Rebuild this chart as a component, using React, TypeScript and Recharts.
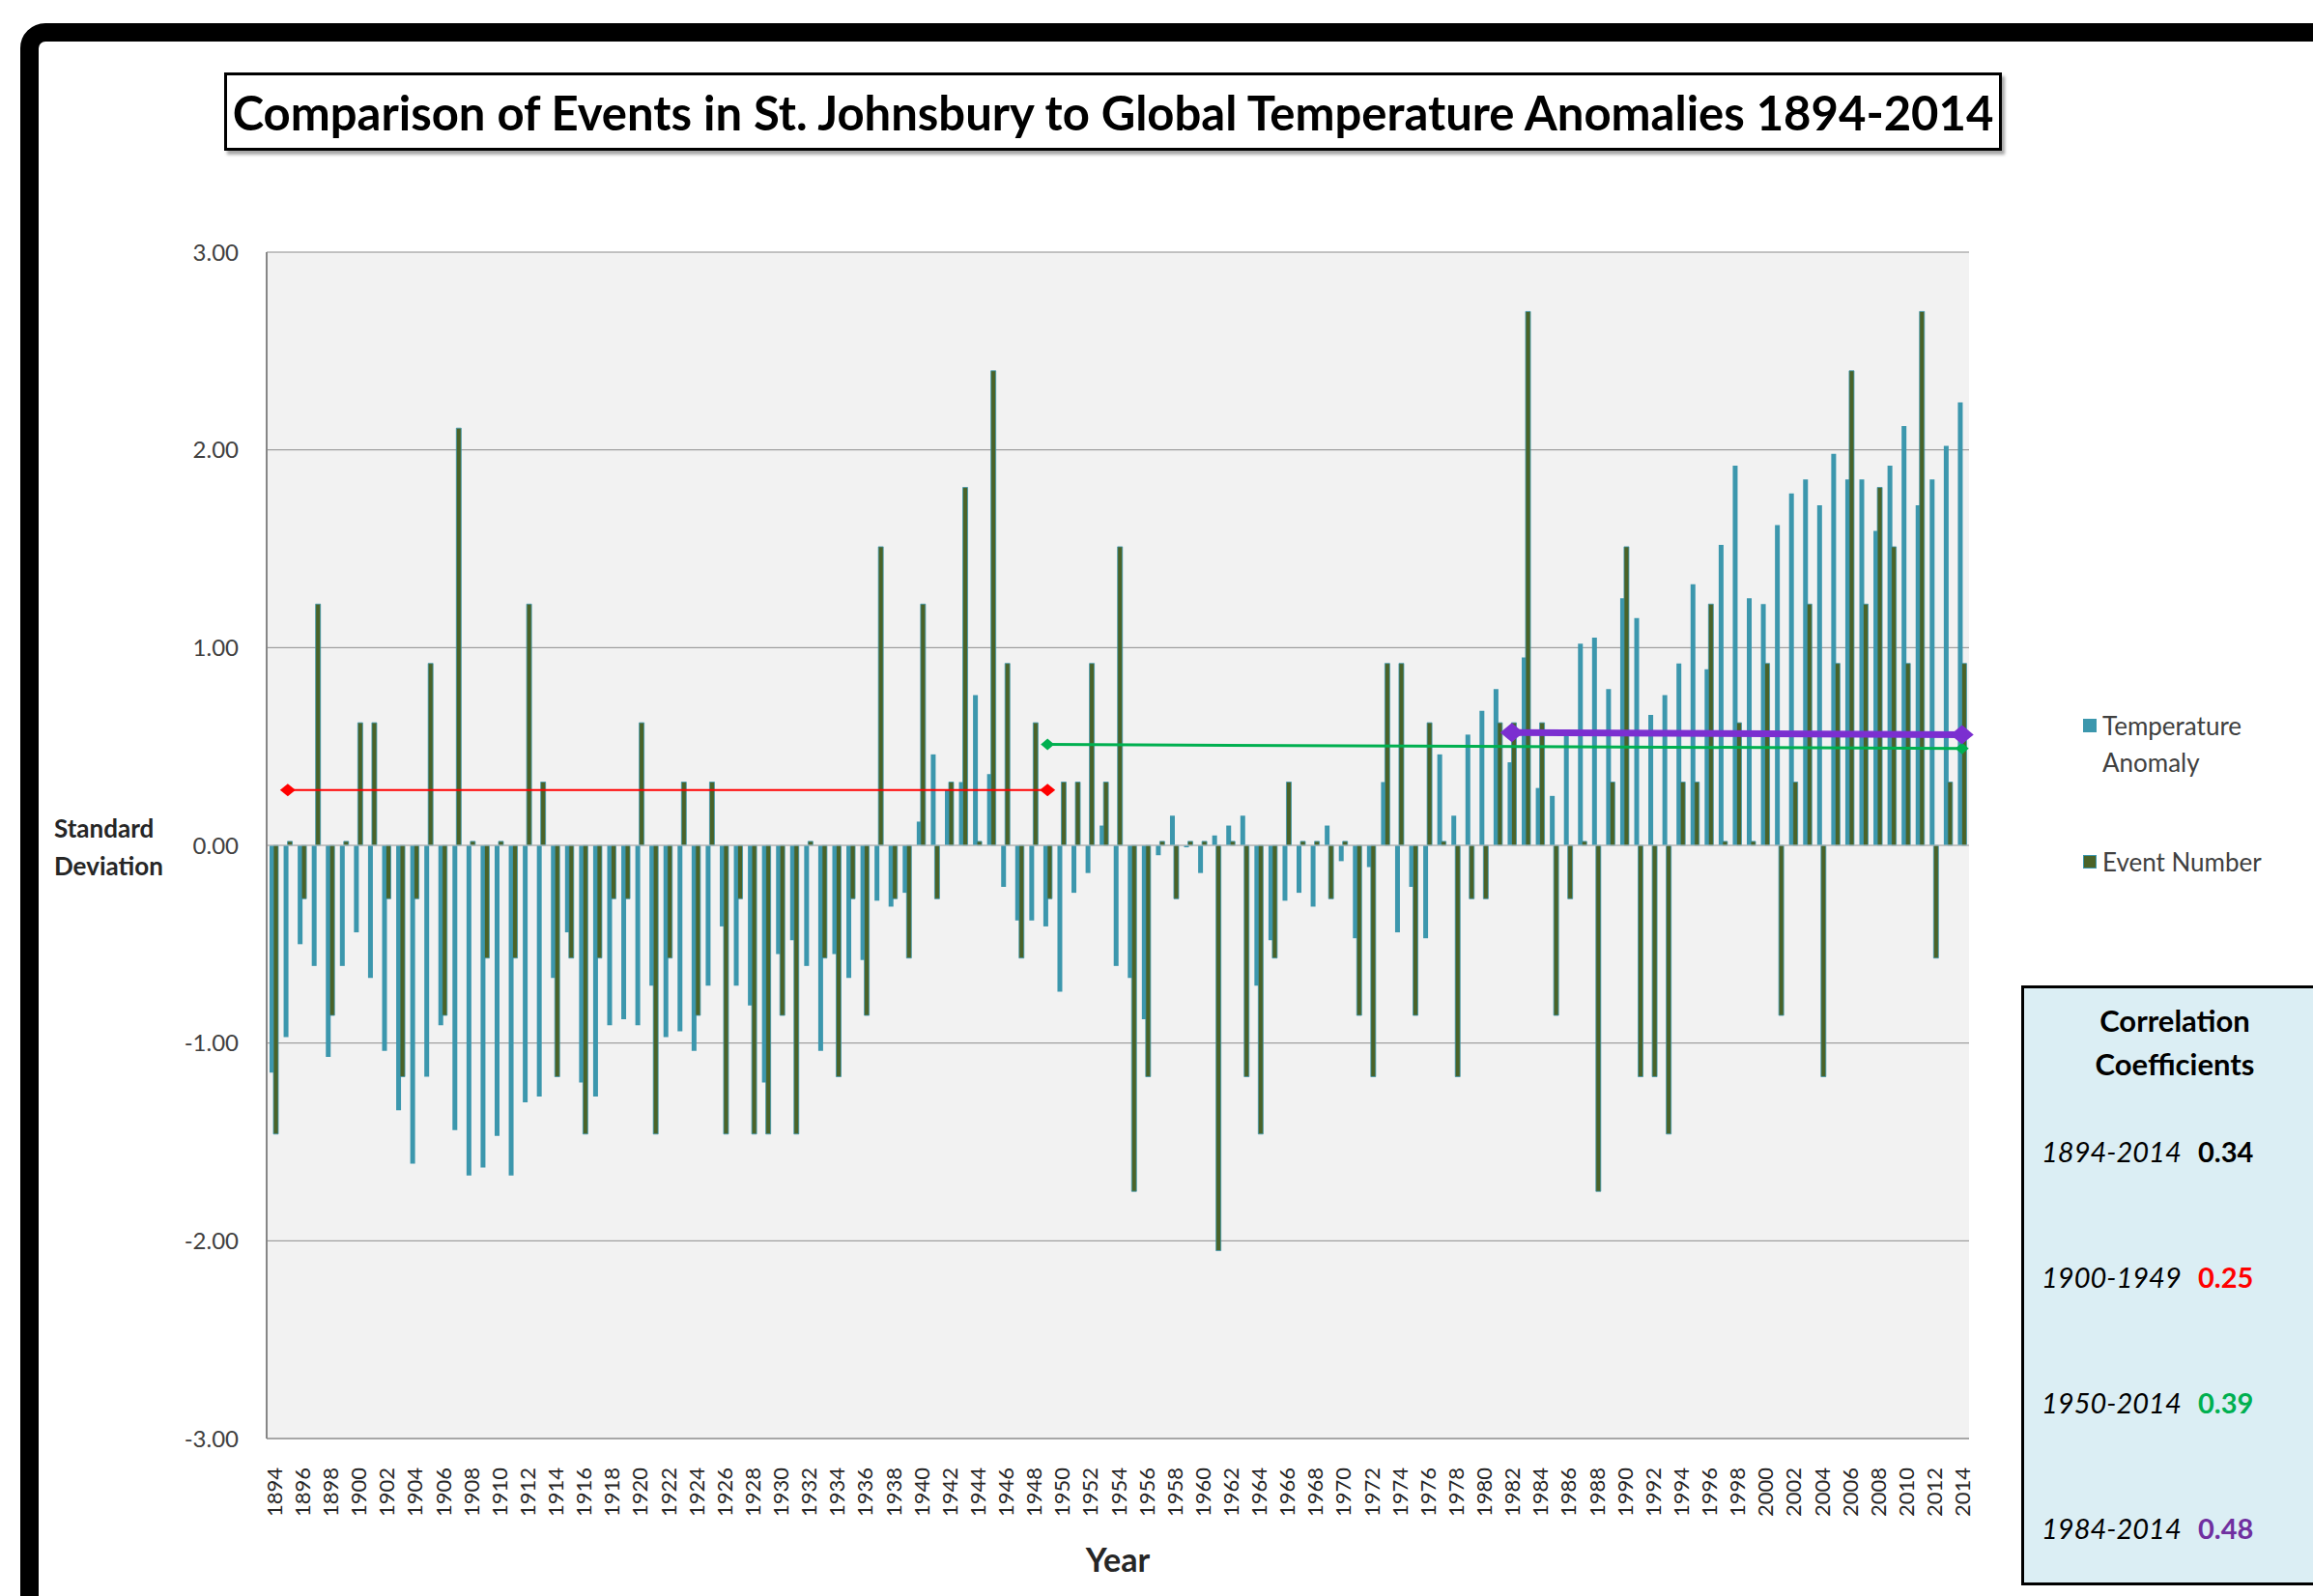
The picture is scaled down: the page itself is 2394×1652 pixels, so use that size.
import React from 'react';
import { ComposedChart, Bar, Line, XAxis, YAxis, CartesianGrid, ReferenceLine, Legend } from 'recharts';

const years = Array.from({ length: 121 }, (_, i) => String(1894 + i));

const tempAnomaly = [
  -1.15, -0.97, -0.5, -0.61, -1.07, -0.61, -0.44, -0.67, -1.04, -1.34,
  -1.61, -1.17, -0.91, -1.44, -1.67, -1.63, -1.47, -1.67, -1.3, -1.27,
  -0.67, -0.44, -1.2, -1.27, -0.91, -0.88, -0.91, -0.71, -0.97, -0.94,
  -1.04, -0.71, -0.41, -0.71, -0.81, -1.2, -0.55, -0.48, -0.61, -1.04,
  -0.55, -0.67, -0.58, -0.28, -0.31, -0.24, 0.12, 0.46, 0.28, 0.32,
  0.76, 0.36, -0.21, -0.38, -0.38, -0.41, -0.74, -0.24, -0.14, 0.1,
  -0.61, -0.67, -0.88, -0.05, 0.15, -0.01, -0.14, 0.05, 0.1, 0.15,
  -0.71, -0.48, -0.28, -0.24, -0.31, 0.1, -0.08, -0.47, -0.11, 0.32,
  -0.44, -0.21, -0.47, 0.46, 0.15, 0.56, 0.68, 0.79, 0.42, 0.95,
  0.29, 0.25, 0.56, 1.02, 1.05, 0.79, 1.25, 1.15, 0.66, 0.76,
  0.92, 1.32, 0.89, 1.52, 1.92, 1.25, 1.22, 1.62, 1.78, 1.85,
  1.72, 1.98, 1.85, 1.85, 1.59, 1.92, 2.12, 1.72, 1.85, 2.02,
  2.24,
];

const eventNumber = [
  -1.46, 0.02, -0.27, 1.22, -0.86, 0.02, 0.62, 0.62, -0.27, -1.17,
  -0.27, 0.92, -0.86, 2.11, 0.02, -0.57, 0.02, -0.57, 1.22, 0.32,
  -1.17, -0.57, -1.46, -0.57, -0.27, -0.27, 0.62, -1.46, -0.57, 0.32,
  -0.86, 0.32, -1.46, -0.27, -1.46, -1.46, -0.86, -1.46, 0.02, -0.57,
  -1.17, -0.27, -0.86, 1.51, -0.27, -0.57, 1.22, -0.27, 0.32, 1.81,
  0.02, 2.4, 0.92, -0.57, 0.62, -0.27, 0.32, 0.32, 0.92, 0.32,
  1.51, -1.75, -1.17, 0.02, -0.27, 0.02, 0.02, -2.05, 0.02, -1.17,
  -1.46, -0.57, 0.32, 0.02, 0.02, -0.27, 0.02, -0.86, -1.17, 0.92,
  0.92, -0.86, 0.62, 0.02, -1.17, -0.27, -0.27, 0.62, 0.62, 2.7,
  0.62, -0.86, -0.27, 0.02, -1.75, 0.32, 1.51, -1.17, -1.17, -1.46,
  0.32, 0.32, 1.22, 0.02, 0.62, 0.02, 0.92, -0.86, 0.32, 1.22,
  -1.17, 0.92, 2.4, 1.22, 1.81, 1.51, 0.92, 2.7, -0.57, 0.32,
  0.92,
];

// trend lines drawn over the bars (end points only)
const trendRed = [{ year: '1895', value: 0.28 }, { year: '1949', value: 0.28 }];
const trendGreen = [{ year: '1949', value: 0.51 }, { year: '2014', value: 0.49 }];
const trendPurple = [{ year: '1982', value: 0.57 }, { year: '2014', value: 0.56 }];

const yTicks = [-3, -2, -1, 0, 1, 2, 3];
const minorTicks = Array.from({ length: 61 }, (_, i) => (i - 30) / 10);

const correlations = [
  { period: '1894-2014', value: '0.34', color: '#000000' },
  { period: '1900-1949', value: '0.25', color: '#ff0000' },
  { period: '1950-2014', value: '0.39', color: '#00b050' },
  { period: '1984-2014', value: '0.48', color: '#7030a0' },
];

const BLUE = '#3c97ad';
const GREEN = '#4a6328';
const legendOrder = ['temp', 'events'];
const seriesColors: Record<string, string> = { temp: BLUE, events: GREEN };

const pick = (list: { year: string; value: number }[], year: string) => {
  const hit = list.find((p) => p.year === year);
  return hit ? hit.value : null;
};

const data = years.map((year, i) => ({
  year,
  temp: tempAnomaly[i],
  events: eventNumber[i],
  red: pick(trendRed, year),
  green: pick(trendGreen, year),
  purple: pick(trendPurple, year),
}));

const diamond = (w: number, h: number, color: string) => (props: any) => {
  const { cx, cy, index } = props;
  if (cx == null || cy == null || Number.isNaN(cy)) return <g key={`d-${index}`} />;
  return (
    <polygon
      key={`d-${index}`}
      points={`${cx - w / 2},${cy} ${cx},${cy - h / 2} ${cx + w / 2},${cy} ${cx},${cy + h / 2}`}
      fill={color}
    />
  );
};

const YearTick = ({ x, y, payload }: any) => (
  <text
    x={x}
    y={y}
    transform={`rotate(-90, ${x}, ${y})`}
    textAnchor="end"
    dominantBaseline="central"
    fontFamily="Lato"
    fontSize={22}
    fill="#262626"
  >
    {payload.value}
  </text>
);

const renderLegend = ({ payload }: any) => {
  const items = (payload || [])
    .filter((e: any) => legendOrder.includes(e.dataKey))
    .sort((a: any, b: any) => legendOrder.indexOf(a.dataKey) - legendOrder.indexOf(b.dataKey));
  return (
    <div style={{ fontFamily: 'Lato', fontSize: 26, color: '#404040' }}>
      {items.map((entry: any) => (
        <div key={entry.dataKey} style={{ display: 'flex', alignItems: 'flex-start', marginBottom: 65 }}>
          <span
            style={{
              width: 14,
              height: 14,
              background: seriesColors[entry.dataKey],
              border: `1px solid ${BLUE}`,
              boxSizing: 'border-box',
              marginTop: 12,
              marginRight: 6,
              flexShrink: 0,
            }}
          />
          <span style={{ lineHeight: '38px', maxWidth: 185 }}>{entry.value}</span>
        </div>
      ))}
    </div>
  );
};

export default function App() {
  return (
    <div
      style={{
        position: 'absolute',
        left: 0,
        top: 0,
        width: 2394,
        height: 1652,
        overflow: 'hidden',
        background: '#ffffff',
      }}
    >
      <div
        style={{
          position: 'absolute',
          left: 21,
          top: 24,
          width: 2500,
          height: 1800,
          border: '19px solid #000',
          borderRadius: 26,
          background: '#fff',
        }}
      />

      <div style={{ position: 'absolute', left: 0, top: 0 }}>
        <ComposedChart
          width={2394}
          height={1652}
          data={data}
          margin={{ top: 261, right: 356, bottom: 13, left: 216 }}
          barGap={-1}
        >
          <CartesianGrid vertical={false} stroke="#8c8c8c" fill="#f2f2f2" />
          <XAxis
            dataKey="year"
            interval={1}
            height={150}
            tick={<YearTick />}
            tickLine={false}
            tickSize={0}
            tickMargin={30}
            axisLine={{ stroke: '#8c8c8c' }}
            label={{
              value: 'Year',
              position: 'insideBottom',
              offset: 12,
              style: { fontFamily: 'Lato', fontWeight: 700, fontSize: 34, fill: '#262626' },
            }}
          />
          <YAxis
            domain={[-3, 3]}
            ticks={yTicks}
            allowDataOverflow
            width={60}
            tickFormatter={(v: number) => v.toFixed(2)}
            tick={{ fontFamily: 'Lato', fontSize: 24, fill: '#404040' }}
            tickLine={false}
            tickSize={0}
            tickMargin={29}
            axisLine={{ stroke: '#868686', strokeWidth: 2 }}
          />
          <YAxis
            yAxisId="minor"
            mirror
            domain={[-3, 3]}
            ticks={minorTicks}
            allowDataOverflow
            tick={false}
            tickSize={7}
            tickLine={{ stroke: '#8c8c8c' }}
            axisLine={false}
          />
          <YAxis
            yAxisId="frame"
            orientation="right"
            width={0}
            domain={[-3, 3]}
            tick={false}
            tickLine={false}
            axisLine={{ stroke: '#6e6e6e', strokeWidth: 2 }}
          />
          <ReferenceLine y={0} stroke="#c8c8c8" />
          <Bar dataKey="temp" name="Temperature Anomaly" fill={BLUE} barSize={5} isAnimationActive={false} />
          <Bar
            dataKey="events"
            name="Event Number"
            fill={GREEN}
            stroke={BLUE}
            strokeWidth={0.8}
            barSize={5}
            isAnimationActive={false}
          />
          <Line
            dataKey="red"
            stroke="#ff0000"
            strokeWidth={2}
            connectNulls
            dot={diamond(16, 13, '#ff0000')}
            activeDot={false}
            legendType="none"
            isAnimationActive={false}
          />
          <Line
            dataKey="green"
            stroke="#00b050"
            strokeWidth={3}
            connectNulls
            dot={diamond(14, 12, '#00b050')}
            activeDot={false}
            legendType="none"
            isAnimationActive={false}
          />
          <Line
            dataKey="purple"
            stroke="#7b2fd0"
            strokeWidth={7}
            connectNulls
            dot={diamond(24, 20, '#7b2fd0')}
            activeDot={false}
            legendType="none"
            isAnimationActive={false}
          />
          <Legend
            layout="vertical"
            align="center"
            verticalAlign="middle"
            content={renderLegend}
            wrapperStyle={{ left: 2156, top: 732, width: 220 }}
          />
        </ComposedChart>
      </div>

      <div
        style={{
          position: 'absolute',
          left: 232,
          top: 75,
          width: 1840,
          height: 81,
          border: '3px solid #000',
          boxShadow: '3px 4px 3px rgba(0,0,0,0.35)',
          boxSizing: 'border-box',
          background: '#fff',
          display: 'flex',
          alignItems: 'center',
          justifyContent: 'center',
          fontFamily: 'Lato',
          fontWeight: 700,
          fontSize: 49,
          color: '#000',
          whiteSpace: 'nowrap',
        }}
      >
        Comparison of Events in St. Johnsbury to Global Temperature Anomalies 1894-2014
      </div>

      <div
        style={{
          position: 'absolute',
          left: 56,
          top: 838,
          fontFamily: 'Lato',
          fontWeight: 700,
          fontSize: 26,
          lineHeight: '39px',
          color: '#262626',
        }}
      >
        Standard
        <br />
        Deviation
      </div>

      <div
        style={{
          position: 'absolute',
          left: 2092,
          top: 1020,
          width: 360,
          height: 621,
          background: '#dbeef4',
          border: '3px solid #000',
          boxSizing: 'border-box',
          fontFamily: 'Lato',
        }}
      >
        <div
          style={{
            position: 'absolute',
            left: 56,
            top: 11,
            width: 200,
            textAlign: 'center',
            fontWeight: 700,
            fontSize: 31,
            lineHeight: '45px',
            color: '#000',
          }}
        >
          Correlation
          <br />
          Coefficients
        </div>
        {correlations.map((c, i) => (
          <div
            key={c.period}
            style={{
              position: 'absolute',
              left: 18,
              top: 149 + i * 130,
              height: 40,
              lineHeight: '40px',
              fontSize: 29,
              whiteSpace: 'nowrap',
            }}
          >
            <span style={{ fontStyle: 'italic', color: '#000', display: 'inline-block', width: 162 }}>{c.period}</span>
            <span style={{ fontWeight: 700, color: c.color }}>{c.value}</span>
          </div>
        ))}
      </div>
    </div>
  );
}
